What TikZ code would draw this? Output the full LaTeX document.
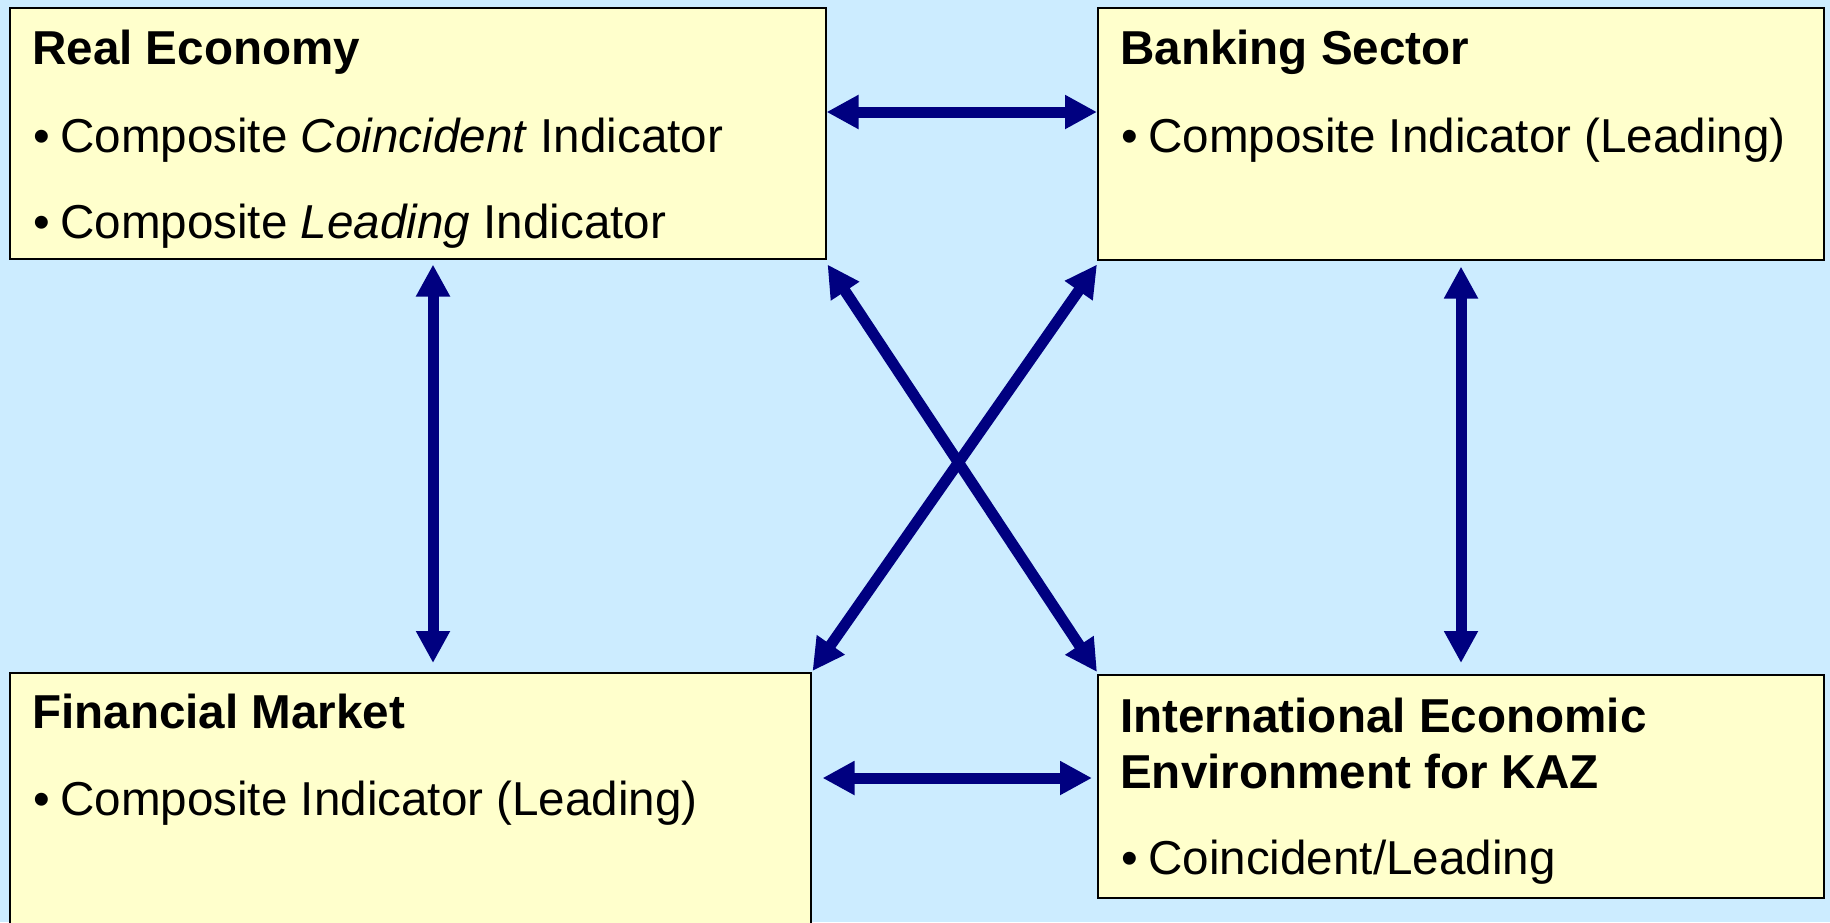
\documentclass[tikz,border=0pt]{standalone}
\usepackage{fontspec}
\setmainfont{Liberation Sans}
\usetikzlibrary{arrows.meta,calc}

\definecolor{skyback}{HTML}{CCECFF}
\definecolor{paleyellow}{HTML}{FFFFCC}
\definecolor{navyarrow}{HTML}{000080}

\newcommand{\slidesize}{\fontsize{47.6}{56}\selectfont}
\newcommand{\bulletline}[1]{\makebox[27pt][l]{\textbullet}#1}

\tikzset{
  sector/.style={draw=black,line width=1.5pt,fill=paleyellow,rectangle,anchor=north west,inner sep=0pt},
  heading/.style={anchor=base west,inner sep=0pt,font=\slidesize\bfseries},
  entry/.style={anchor=base west,inner sep=0pt,font=\slidesize},
  link/.style={draw=navyarrow,line width=11pt,{Triangle[length=32pt,width=32pt]}-{Triangle[length=32pt,width=32pt]}}
}

\begin{document}
\begin{tikzpicture}[x=1pt,y=-1pt]
\useasboundingbox (0,0) rectangle (1830,922);
\clip (0,0) rectangle (1830,922);
\fill[skyback] (0,0) rectangle (1830,922);

% the four sector boxes
\node[sector,minimum width=816pt,minimum height=251pt] (real) at (9,7) {};
\node[sector,minimum width=726pt,minimum height=252pt] (bank) at (1097,7) {};
\node[sector,minimum width=801pt,minimum height=270pt] (fin) at (9,672) {};
\node[sector,minimum width=726pt,minimum height=223pt] (intl) at (1097,674) {};

% texts
\node[heading] (realT) at (32,64) {Real Economy};
\node[entry] (realA) at (33,152) {\bulletline{Composite \textit{Coincident} Indicator}};
\node[entry] (realB) at (33,238) {\bulletline{Composite \textit{Leading} Indicator}};

\node[heading] (bankT) at (1120,64) {Banking Sector};
\node[entry] (bankA) at (1121,152) {\bulletline{Composite Indicator (Leading)}};

\node[heading] (finT) at (32,728) {Financial Market};
\node[entry] (finA) at (33,815) {\bulletline{Composite Indicator (Leading)}};

\node[heading] (intlT) at (1120,732) {International Economic};
\node[heading] (intlU) at (1120,788) {Environment for KAZ};
\node[entry] (intlA) at (1121,874) {\bulletline{Coincident/Leading}};

% links between sectors
\draw[link] ($(real.north east)+(0,105)$) -- ($(bank.north west)+(0,105)$);
\draw[link] ($(fin.north east)+(11,106)$) -- ($(intl.north west)+(-5,104)$);
\draw[link] ($(real.south west)+(424,5)$) -- ($(fin.north west)+(424,-9)$);
\draw[link] ($(bank.south west)+(364,6)$) -- ($(intl.north west)+(364,-11)$);
\draw[link] ($(real.south east)+(1,5)$) -- ($(intl.north west)+(0,-2)$);
\draw[link] ($(bank.south west)+(0,4)$) -- ($(fin.north east)+(1,-1)$);
\end{tikzpicture}
\end{document}
